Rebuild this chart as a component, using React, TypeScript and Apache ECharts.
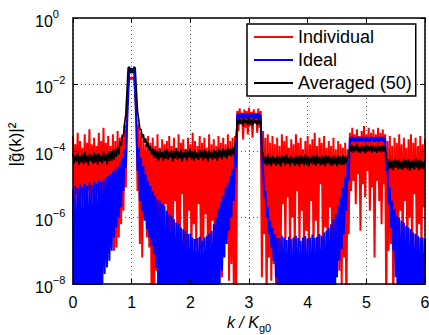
import React, { useEffect, useRef } from 'react';
import * as echarts from 'echarts';

// sample spacing along k / K_g0 (values below are log10 of |g(k)|^2 at k = i * STEP)
const STEP = 0.02;
const seriesNames = ['Individual', 'Ideal', 'Averaged (50)'];
const xTickStep = 1;
const yTickStep = 2;

const individual = [
  -3.55, -5.6, -3.8, -5.3, -3.45, -5.8, -3.7, -5.4, -3.9, -5.5,
  -3.5, -5.7, -3.75, -5.2, -3.35, -5.9, -3.8, -5.4, -3.6, -5.6,
  -3.85, -5.3, -3.45, -5.8, -3.7, -5.5, -3.3, -5.6, -3.75, -5.4,
  -3.55, -5.5, -3.85, -5.9, -3.5, -7.0, -3.7, -6.9, -3.4, -6.6,
  -3.6, -6.2, -3.5, -5.8, -3.2, -5.1, -2.6, -2.1, -1.78, -1.86,
  -1.77, -1.84, -1.78, -2.2, -2.9, -5.2, -3.2, -6.8, -3.45, -7.2,
  -3.6, -6.0, -3.8, -6.6, -3.55, -6.9, -3.75, -8.6, -3.6, -9.5,
  -3.85, -7.6, -3.5, -6.2, -3.9, -6.0, -3.65, -6.4, -3.8, -5.6,
  -3.7, -6.9, -3.55, -6.3, -3.85, -7.0, -3.6, -5.5, -3.9, -6.9,
  -3.5, -6.8, -3.75, -5.3, -3.65, -7.0, -3.95, -6.9, -3.6, -5.8,
  -3.8, -7.0, -3.45, -6.2, -3.7, -6.9, -3.85, -5.6, -3.55, -7.0,
  -3.75, -6.9, -3.6, -5.9, -3.9, -7.0, -3.5, -6.8, -3.8, -6.1,
  -3.65, -8.5, -3.85, -7.0, -3.55, -6.2, -3.75, -7.8, -3.6, -6.5,
  -3.8, -6.6, -3.5, -7.9, -3.7, -7.4, -3.6, -8.0, -3.55, -9.0,
  -2.8, -3.4, -2.72, -3.2, -2.85, -3.65, -2.75, -3.3, -2.8, -3.5,
  -2.7, -3.25, -2.82, -3.6, -2.75, -3.15, -2.85, -3.45, -2.72, -3.3,
  -2.8, -7.8, -3.4, -6.5, -3.6, -8.8, -3.5, -7.2, -3.75, -7.9,
  -3.55, -7.4, -3.8, -8.0, -3.6, -6.9, -3.85, -7.0, -3.5, -5.6,
  -3.7, -6.9, -3.55, -5.4, -3.9, -7.0, -3.65, -6.0, -3.8, -6.9,
  -3.5, -5.2, -3.75, -6.9, -3.6, -5.8, -3.95, -7.0, -3.7, -6.4,
  -3.55, -6.9, -3.8, -5.5, -3.65, -7.0, -3.45, -6.1, -3.85, -6.9,
  -3.6, -5.0, -3.75, -6.9, -3.55, -6.3, -3.9, -7.0, -3.7, -5.7,
  -3.85, -6.9, -3.6, -7.2, -3.95, -6.8, -3.7, -7.6, -3.8, -8.0,
  -3.9, -7.2, -3.75, -9.0, -3.95, -6.5, -3.45, -5.2, -3.3, -4.9,
  -3.5, -5.6, -3.35, -4.7, -3.55, -6.4, -3.4, -5.0, -3.25, -5.4,
  -3.5, -4.6, -3.3, -5.8, -3.45, -5.1, -3.35, -7.2, -3.5, -4.9,
  -3.3, -5.5, -3.45, -6.2, -3.35, -5.0, -3.5, -8.8, -3.7, -7.0,
  -3.55, -6.8, -3.85, -8.8, -3.6, -7.2, -3.75, -6.9, -3.5, -5.8,
  -3.8, -6.9, -3.6, -5.5, -3.9, -7.0, -3.65, -6.0, -3.5, -6.9,
  -3.75, -5.3, -3.6, -6.9, -3.85, -6.2, -3.55, -7.0, -3.8, -5.7,
  -3.65,
];

const ideal = [
  -5.15, -10, -5.05, -10, -5.12, -10, -5.0, -10, -5.08, -10,
  -4.98, -10, -5.05, -10, -4.95, -10, -5.02, -10, -4.92, -10,
  -4.98, -10, -4.88, -10, -4.92, -8.0, -4.85, -7.7, -4.8, -7.5,
  -4.75, -7.3, -4.7, -7.0, -4.62, -6.6, -4.55, -6.3, -4.48, -6.0,
  -4.35, -5.7, -4.2, -5.2, -3.95, -4.5, -3.3, -2.4, -1.5, -1.56,
  -1.52, -1.56, -1.5, -2.3, -3.2, -4.6, -3.9, -5.5, -4.2, -5.8,
  -4.45, -6.1, -4.7, -6.35, -4.9, -6.6, -5.05, -6.85, -5.2, -7.1,
  -5.35, -7.5, -5.45, -10, -5.5, -10, -5.58, -10, -5.65, -10,
  -5.8, -10, -5.9, -10, -5.95, -10, -6.05, -10, -6.15, -10,
  -6.2, -10, -6.3, -10, -6.35, -10, -6.42, -10, -6.5, -10,
  -6.48, -10, -6.6, -10, -6.65, -10, -6.62, -10, -6.58, -10,
  -6.7, -10, -6.6, -10, -6.55, -10, -6.5, -10, -6.4, -10,
  -6.2, -10, -6.0, -10, -5.75, -8.0, -5.55, -7.6, -5.35, -7.2,
  -5.1, -6.8, -4.95, -6.4, -4.75, -6.0, -4.55, -5.5, -4.1, -4.5,
  -2.88, -3.02, -2.9, -3.0, -2.86, -3.03, -2.89, -3.01, -2.87, -3.04,
  -2.9, -3.0, -2.88, -3.02, -2.86, -3.03, -2.9, -3.01, -2.87, -3.02,
  -2.9, -4.3, -4.6, -5.4, -5.2, -6.0, -5.7, -6.5, -6.1, -6.9,
  -6.3, -7.3, -6.5, -7.8, -6.6, -10, -6.62, -10, -6.55, -10,
  -6.6, -10, -6.68, -10, -6.58, -10, -6.65, -10, -6.6, -10,
  -6.55, -10, -6.62, -10, -6.7, -10, -6.6, -10, -6.56, -10,
  -6.64, -10, -6.6, -10, -6.52, -10, -6.62, -10, -6.58, -10,
  -6.5, -10, -6.55, -10, -6.45, -10, -6.4, -10, -6.3, -10,
  -6.2, -10, -6.05, -10, -5.9, -7.8, -5.65, -7.3, -5.4, -6.95,
  -5.1, -6.5, -4.8, -5.8, -4.4, -4.9, -3.6, -3.72, -3.57, -3.7,
  -3.6, -3.73, -3.58, -3.71, -3.6, -3.72, -3.57, -3.7, -3.59, -3.73,
  -3.58, -3.71, -3.6, -3.72, -3.57, -3.7, -3.59, -3.73, -3.58, -3.71,
  -3.6, -3.72, -3.57, -3.7, -3.58, -3.72, -3.6, -4.6, -4.5, -5.6,
  -5.1, -6.3, -5.5, -7.0, -5.75, -7.8, -5.95, -10, -6.0, -10,
  -6.1, -10, -6.15, -10, -6.25, -10, -6.3, -10, -6.35, -10,
  -6.45, -10, -6.5, -10, -6.55, -10, -6.6, -10, -6.6, -10,
  -6.65,
];

const averaged = [
  -4.08, -4.38, -4.12, -4.32, -4.05, -4.42, -4.15, -4.35, -4.1, -4.4,
  -4.02, -4.34, -4.14, -4.44, -4.08, -4.3, -4.12, -4.38, -4.04, -4.36,
  -4.1, -4.42, -4.06, -4.33, -4.14, -4.37, -4.02, -4.3, -4.1, -4.4,
  -4.05, -4.32, -4.0, -4.3, -3.98, -4.25, -3.95, -4.18, -3.88, -4.1,
  -3.72, -3.85, -3.55, -3.55, -3.15, -2.9, -2.2, -1.5, -1.47, -1.66,
  -1.56, -1.66, -1.47, -1.5, -2.15, -2.8, -3.05, -3.35, -3.35, -3.6,
  -3.5, -3.75, -3.62, -3.88, -3.75, -3.98, -3.85, -4.12, -3.92, -4.2,
  -3.95, -4.22, -4.0, -4.28, -3.96, -4.2, -4.03, -4.3, -3.98, -4.24,
  -3.94, -4.27, -4.02, -4.2, -3.97, -4.31, -4.0, -4.22, -3.92, -4.26,
  -4.01, -4.24, -3.96, -4.33, -4.03, -4.21, -3.95, -4.28, -4.0, -4.19,
  -3.93, -4.25, -4.02, -4.3, -3.98, -4.22, -4.04, -4.27, -3.95, -4.2,
  -4.0, -4.29, -3.94, -4.23, -4.01, -4.32, -3.97, -4.21, -4.03, -4.26,
  -3.96, -4.22, -4.0, -4.3, -3.93, -4.2, -3.98, -4.25, -3.92, -4.18,
  -3.96, -4.22, -3.9, -4.15, -3.94, -4.18, -3.88, -4.12, -3.8, -3.6,
  -3.05, -3.2, -3.02, -3.18, -3.06, -3.24, -3.03, -3.16, -3.07, -3.22,
  -3.0, -3.19, -3.05, -3.23, -3.04, -3.17, -3.08, -3.21, -3.03, -3.18,
  -3.08, -3.95, -4.12, -4.38, -4.16, -4.44, -4.1, -4.4, -4.18, -4.46,
  -4.14, -4.38, -4.2, -4.45, -4.12, -4.4, -4.17, -4.47, -4.13, -4.36,
  -4.16, -4.43, -4.11, -4.39, -4.19, -4.46, -4.14, -4.37, -4.2, -4.44,
  -4.12, -4.4, -4.17, -4.47, -4.13, -4.38, -4.18, -4.43, -4.1, -4.41,
  -4.15, -4.46, -4.19, -4.37, -4.12, -4.42, -4.16, -4.45, -4.11, -4.39,
  -4.18, -4.44, -4.13, -4.4, -4.17, -4.47, -4.12, -4.38, -4.15, -4.43,
  -4.19, -4.45, -4.14, -4.4, -4.18, -4.46, -4.13, -4.41, -4.16, -4.44,
  -4.12, -4.42, -4.17, -4.38, -4.14, -4.2, -3.85, -4.02, -3.82, -4.05,
  -3.86, -4.0, -3.8, -4.04, -3.87, -4.06, -3.83, -4.01, -3.85, -4.07,
  -3.81, -4.03, -3.86, -4.0, -3.84, -4.05, -3.82, -4.02, -3.87, -4.06,
  -3.83, -4.01, -3.86, -4.04, -3.84, -4.02, -3.86, -4.22, -4.28, -4.55,
  -4.25, -4.52, -4.3, -4.58, -4.24, -4.5, -4.29, -4.56, -4.26, -4.53,
  -4.31, -4.57, -4.23, -4.51, -4.28, -4.55, -4.25, -4.6, -4.3, -4.52,
  -4.27, -4.56, -4.22, -4.5, -4.29, -4.58, -4.26, -4.53, -4.31, -4.55,
  -4.28,
];

const FONT = '"Liberation Sans", Arial, Helvetica, sans-serif';

export default function App() {
  const ref = useRef<HTMLDivElement>(null);

  useEffect(() => {
    if (!ref.current) return;
    const chart = echarts.init(ref.current, null, { renderer: 'svg' });
    const toPts = (arr: number[]) => arr.map((v, i) => [Math.round(i * STEP * 100) / 100, v]);

    const xBase = { type: 'value', min: 0, max: 6, interval: xTickStep };
    const yBase = { type: 'value', min: -8, max: 0, interval: yTickStep };
    const axisLine = { show: true, onZero: false, lineStyle: { color: '#000', width: 1.5 } };
    const axisTick = { show: true, inside: true, length: 5, lineStyle: { color: '#000', width: 1 } };
    const grid = { show: true, lineStyle: { color: '#555', width: 1, type: [1, 3] } };
    const sup = (v: number) => (v === 0 ? '0' : '\u2212' + Math.abs(v));

    const option: any = {
      animation: false,
      backgroundColor: '#fff',
      grid: { left: 73, right: 4, top: 18, bottom: 51, containLabel: false, outerBoundsMode: 'none' },
      legend: {
        data: seriesNames,
        orient: 'vertical',
        left: 247,
        top: 24,
        icon: 'rect',
        itemWidth: 39,
        itemHeight: 2,
        itemGap: 5,
        padding: [4, 4, 4, 7],
        borderColor: '#000',
        borderWidth: 1.5,
        borderRadius: 0,
        backgroundColor: '#fff',
        selectedMode: false,
        textStyle: { fontFamily: FONT, fontSize: 18, lineHeight: 18, color: '#000' },
      },
      xAxis: [
        {
          ...xBase,
          position: 'bottom',
          z: 5,
          axisLine,
          axisTick,
          splitLine: { show: false },
          axisLabel: { show: true, margin: 10, fontSize: 16, color: '#000', fontFamily: FONT },
          name: '{i|k / K}{sub|g0}',
          nameLocation: 'middle',
          nameGap: 21,
          nameTextStyle: {
            color: '#000',
            fontFamily: FONT,
            rich: {
              i: { fontSize: 16, fontStyle: 'italic', lineHeight: 16, verticalAlign: 'top', fontFamily: FONT, color: '#000' },
              sub: { fontSize: 11, lineHeight: 11, verticalAlign: 'top', padding: [8, 0, 0, 0], fontFamily: FONT, color: '#000' },
            },
          },
        },
        {
          ...xBase,
          position: 'top',
          z: 5,
          axisLine,
          axisTick,
          splitLine: { show: false },
          axisLabel: { show: false },
        },
        {
          ...xBase,
          position: 'bottom',
          z: 0,
          axisLine: { show: false },
          axisTick: { show: false },
          axisLabel: { show: false },
          splitLine: grid,
        },
      ],
      yAxis: [
        {
          ...yBase,
          position: 'left',
          z: 5,
          axisLine,
          axisTick,
          splitLine: { show: false },
          axisLabel: {
            show: true,
            align: 'left',
            margin: 38,
            padding: [6, 0, 0, 0],
            formatter: (v: number) => `{b|10}{s|${sup(v)}}`,
            rich: {
              b: { fontSize: 16, lineHeight: 26, fontFamily: FONT, color: '#000' },
              s: { fontSize: 11, lineHeight: 11, verticalAlign: 'top', fontFamily: FONT, color: '#000' },
            },
          },
          name: '|g\u0303(k)|\u00B2',
          nameLocation: 'middle',
          nameRotate: 90,
          nameGap: 46,
          nameTextStyle: { color: '#000', fontFamily: FONT, fontSize: 17, padding: [0, 0, 0, 13] },
        },
        {
          ...yBase,
          position: 'right',
          z: 5,
          axisLine,
          axisTick,
          splitLine: { show: false },
          axisLabel: { show: false },
        },
        {
          ...yBase,
          position: 'left',
          z: 0,
          axisLine: { show: false },
          axisTick: { show: false },
          axisLabel: { show: false },
          splitLine: grid,
        },
      ],
      series: [
        { name: seriesNames[0], data: toPts(individual), color: '#ff0000', lineStyle: { color: '#ff0000', width: 2, join: 'bevel' } },
        { name: seriesNames[1], data: toPts(ideal), color: '#0000ff', lineStyle: { color: '#0000ff', width: 2, join: 'bevel' } },
        { name: seriesNames[2], data: toPts(averaged), color: '#000000', lineStyle: { color: '#000000', width: 1.6, join: 'bevel' } },
      ].map((s) => ({
        ...s,
        type: 'line',
        xAxisIndex: 0,
        yAxisIndex: 0,
        showSymbol: false,
        symbol: 'none',
        silent: true,
        clip: true,
        z: 2,
        emphasis: { disabled: true },
      })),
    };

    chart.setOption(option);
    return () => chart.dispose();
  }, []);

  return (
    <div
      ref={ref}
      style={{ position: 'fixed', left: 0, top: 0, width: 429, height: 335, background: '#fff' }}
    />
  );
}
